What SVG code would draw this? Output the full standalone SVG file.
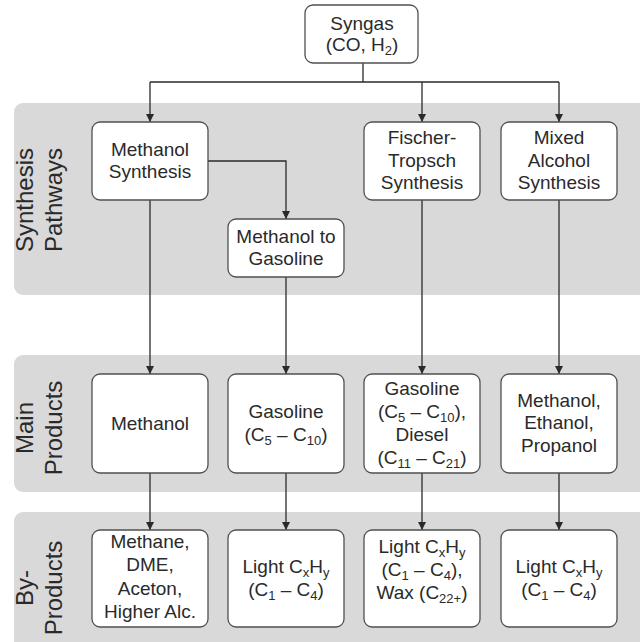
<svg xmlns="http://www.w3.org/2000/svg" width="640" height="642" viewBox="0 0 640 642">
<defs>
<style>
.band{fill:#d9d9d9;}
.box{fill:#fff;stroke:#505050;stroke-width:1.3;}
.t{font-family:"Liberation Sans",Arial,sans-serif;font-size:19px;fill:#2a2a2a;text-anchor:middle;}
.side{font-family:"Liberation Sans",Arial,sans-serif;font-size:24px;fill:#2a2a2a;text-anchor:middle;}
.sub{font-size:13px;baseline-shift:-4px;}
.c{fill:none;stroke:#2a2a2a;stroke-width:1.3;}
</style>
<marker id="arr" viewBox="0 0 10 10" refX="10" refY="5" markerWidth="8" markerHeight="8" markerUnits="userSpaceOnUse" orient="auto">
<path d="M0,0 L10,5 L0,10 z" fill="#2a2a2a"/>
</marker>
</defs>
<rect width="640" height="642" fill="#fff"/>
<g id="bands">
<rect class="band" x="14" y="103" width="640" height="192" rx="9"/>
<rect class="band" x="14" y="355" width="640" height="137" rx="9"/>
<rect class="band" x="14" y="512" width="640" height="150" rx="9"/>
<text class="side" transform="translate(33,200) rotate(-90)">Synthesis</text>
<text class="side" transform="translate(62,200) rotate(-90)">Pathways</text>
<text class="side" transform="translate(33,428) rotate(-90)">Main</text>
<text class="side" transform="translate(62,428) rotate(-90)">Products</text>
<text class="side" transform="translate(33,588) rotate(-90)">By-</text>
<text class="side" transform="translate(62,588) rotate(-90)">Products</text>
</g>
<g id="connectors">
<path class="c" d="M363,63 V82"/>
<path class="c" d="M150,82 H559"/>
<path class="c" d="M150,82 V122" marker-end="url(#arr)"/>
<path class="c" d="M422,82 V122" marker-end="url(#arr)"/>
<path class="c" d="M559,82 V122" marker-end="url(#arr)"/>
<path class="c" d="M208,161 H286 V219" marker-end="url(#arr)"/>
<path class="c" d="M150,200 V374" marker-end="url(#arr)"/>
<path class="c" d="M286,277 V374" marker-end="url(#arr)"/>
<path class="c" d="M422,200 V374" marker-end="url(#arr)"/>
<path class="c" d="M559,200 V374" marker-end="url(#arr)"/>
<path class="c" d="M150,473 V530" marker-end="url(#arr)"/>
<path class="c" d="M286,473 V530" marker-end="url(#arr)"/>
<path class="c" d="M422,473 V530" marker-end="url(#arr)"/>
<path class="c" d="M559,473 V530" marker-end="url(#arr)"/>
</g>
<g id="syngas">
<rect class="box" x="305" y="5" width="113" height="58" rx="8"/>
<text class="t" x="362" y="30">Syngas</text>
<text class="t" x="362" y="51">(CO, H<tspan class="sub">2</tspan>)</text>
</g>
<g id="methanol-synthesis">
<rect class="box" x="92" y="122" width="116" height="78" rx="8"/>
<text class="t" x="150" y="156">Methanol</text>
<text class="t" x="150" y="178">Synthesis</text>
</g>
<g id="methanol-to-gasoline">
<rect class="box" x="228" y="219" width="116" height="58" rx="8"/>
<text class="t" x="286" y="243">Methanol to</text>
<text class="t" x="286" y="265">Gasoline</text>
</g>
<g id="fischer-tropsch">
<rect class="box" x="364" y="122" width="116" height="78" rx="8"/>
<text class="t" x="422" y="144">Fischer-</text>
<text class="t" x="422" y="167">Tropsch</text>
<text class="t" x="422" y="189">Synthesis</text>
</g>
<g id="mixed-alcohol">
<rect class="box" x="501" y="122" width="116" height="78" rx="8"/>
<text class="t" x="559" y="144">Mixed</text>
<text class="t" x="559" y="167">Alcohol</text>
<text class="t" x="559" y="189">Synthesis</text>
</g>
<g id="main-methanol">
<rect class="box" x="92" y="374" width="116" height="99" rx="8"/>
<text class="t" x="150" y="430">Methanol</text>
</g>
<g id="main-gasoline">
<rect class="box" x="228" y="374" width="116" height="99" rx="8"/>
<text class="t" x="286" y="418">Gasoline</text>
<text class="t" x="286" y="441">(C<tspan class="sub">5</tspan> – C<tspan class="sub">10</tspan>)</text>
</g>
<g id="main-ft">
<rect class="box" x="364" y="374" width="116" height="99" rx="8"/>
<text class="t" x="422" y="395">Gasoline</text>
<text class="t" x="422" y="418">(C<tspan class="sub">5</tspan> – C<tspan class="sub">10</tspan>),</text>
<text class="t" x="422" y="441">Diesel</text>
<text class="t" x="422" y="464">(C<tspan class="sub">11</tspan> – C<tspan class="sub">21</tspan>)</text>
</g>
<g id="main-alcohols">
<rect class="box" x="501" y="374" width="116" height="99" rx="8"/>
<text class="t" x="559" y="407">Methanol,</text>
<text class="t" x="559" y="429">Ethanol,</text>
<text class="t" x="559" y="452">Propanol</text>
</g>
<g id="by-methanol">
<rect class="box" x="92" y="530" width="116" height="97" rx="8"/>
<text class="t" x="150" y="548">Methane,</text>
<text class="t" x="150" y="571">DME,</text>
<text class="t" x="150" y="595">Aceton,</text>
<text class="t" x="150" y="618">Higher Alc.</text>
</g>
<g id="by-gasoline">
<rect class="box" x="228" y="530" width="116" height="97" rx="8"/>
<text class="t" x="286" y="573">Light C<tspan class="sub">x</tspan>H<tspan class="sub">y</tspan></text>
<text class="t" x="286" y="596">(C<tspan class="sub">1</tspan> – C<tspan class="sub">4</tspan>)</text>
</g>
<g id="by-ft">
<rect class="box" x="364" y="530" width="116" height="97" rx="8"/>
<text class="t" x="422" y="553">Light C<tspan class="sub">x</tspan>H<tspan class="sub">y</tspan></text>
<text class="t" x="422" y="576">(C<tspan class="sub">1</tspan> – C<tspan class="sub">4</tspan>),</text>
<text class="t" x="422" y="599">Wax (C<tspan class="sub">22+</tspan>)</text>
</g>
<g id="by-alcohols">
<rect class="box" x="501" y="530" width="116" height="97" rx="8"/>
<text class="t" x="559" y="573">Light C<tspan class="sub">x</tspan>H<tspan class="sub">y</tspan></text>
<text class="t" x="559" y="596">(C<tspan class="sub">1</tspan> – C<tspan class="sub">4</tspan>)</text>
</g>
</svg>
